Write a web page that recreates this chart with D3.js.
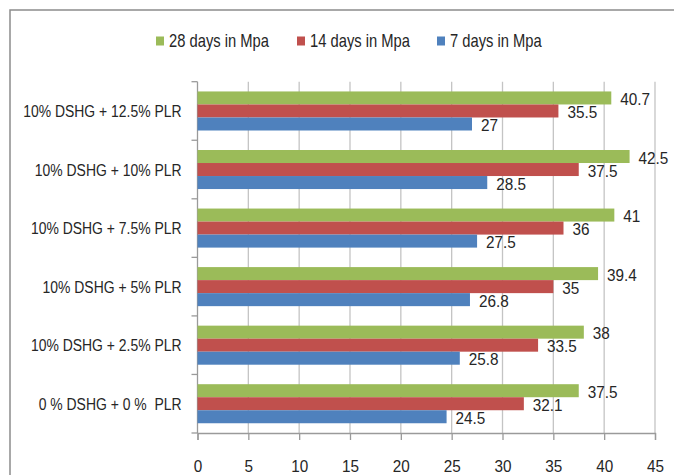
<!DOCTYPE html>
<html>
<head>
<meta charset="utf-8">
<script src="https://cdn.jsdelivr.net/npm/d3@7"></script>
<style>
  html, body { margin: 0; padding: 0; background: #fff; }
  svg { display: block; }
  text { font-family: "Liberation Sans", Arial, sans-serif; fill: #262626; }
</style>
</head>
<body>
<svg id="chart" width="674" height="475"></svg>
<script>
// Compressive strength by mix (top to bottom as shown)
const categories = [
  "10% DSHG + 12.5% PLR",
  "10% DSHG + 10% PLR",
  "10% DSHG + 7.5% PLR",
  "10% DSHG + 5% PLR",
  "10% DSHG + 2.5% PLR",
  "0 % DSHG + 0 %  PLR"
];
const seriesNames = ["28 days in Mpa", "14 days in Mpa", "7 days in Mpa"];
const days28 = [40.7, 42.5, 41, 39.4, 38, 37.5];
const days14 = [35.5, 37.5, 36, 35, 33.5, 32.1];
const days7  = [27, 28.5, 27.5, 26.8, 25.8, 24.5];
const xTicks = [0, 5, 10, 15, 20, 25, 30, 35, 40, 45];
const colors = ["#9bbb59", "#c0504d", "#4f81bd"];

const seriesValues = [days28, days14, days7];

const svg = d3.select("#chart");
const W = 674, H = 475;
const plot = { left: 197.5, right: 655, top: 81.7, bottom: 433 };
const fontSize = 17;
const narrow = 0.82;    // horizontal squeeze for words
const narrowNum = 0.9;  // numbers are squeezed a little less

// place a text at (px, py) and squeeze it horizontally
function placeNarrow(sel, px, py, sx = narrow) {
  sel.attr("x", 0).attr("y", 0)
    .attr("transform", (d, i) => {
      const tx = typeof px === "function" ? px(d, i) : px;
      const ty = typeof py === "function" ? py(d, i) : py;
      return `translate(${tx},${ty}) scale(${sx},1)`;
    });
  return sel;
}

// outer chart frame (runs off the right and bottom edges)
svg.append("rect")
  .attr("x", 10).attr("y", 10)
  .attr("width", W + 20).attr("height", H + 20)
  .attr("fill", "none").attr("stroke", "#8c8c8c").attr("stroke-width", 1.5);

const x = d3.scaleLinear().domain([0, 45]).range([plot.left, plot.right]);
const y = d3.scaleBand().domain(categories).range([plot.top, plot.bottom])
  .paddingInner(0.333).paddingOuter(0.1665);
const ySeries = d3.scaleBand().domain(seriesNames).range([0, y.bandwidth()]);

// vertical gridlines
svg.append("g").selectAll("line")
  .data(xTicks.filter(t => t > 0))
  .join("line")
  .attr("x1", d => x(d)).attr("x2", d => x(d))
  .attr("y1", plot.top).attr("y2", plot.bottom)
  .attr("stroke", "#c4c4c4").attr("stroke-width", 1.3);

// x axis
const xAxis = svg.append("g")
  .attr("transform", `translate(0,${plot.bottom})`)
  .call(d3.axisBottom(x).tickValues(xTicks).tickSize(7).tickPadding(20).tickFormat(d3.format("d")));
xAxis.attr("font-family", null).attr("font-size", null);
xAxis.select(".domain").attr("stroke", "#9a9a9a").attr("stroke-width", 1.3);
xAxis.selectAll(".tick line").attr("stroke", "#9a9a9a").attr("stroke-width", 1.3);
xAxis.selectAll(".tick text")
  .style("font-size", fontSize + "px")
  .attr("fill", "#262626")
  .attr("transform", `scale(${narrowNum},1)`);

// y axis line and band boundary ticks
const yAxis = svg.append("g");
yAxis.append("line")
  .attr("x1", plot.left).attr("x2", plot.left)
  .attr("y1", plot.top).attr("y2", plot.bottom)
  .attr("stroke", "#9a9a9a").attr("stroke-width", 1.3);
const step = y.step();
const boundaries = d3.range(categories.length + 1).map(i => plot.top + i * step);
yAxis.selectAll("line.tick")
  .data(boundaries)
  .join("line")
  .attr("class", "tick")
  .attr("x1", plot.left - 6).attr("x2", plot.left)
  .attr("y1", d => d).attr("y2", d => d)
  .attr("stroke", "#9a9a9a").attr("stroke-width", 1.3);

// category labels
placeNarrow(
  svg.append("g").selectAll("text")
    .data(categories)
    .join("text")
    .attr("dy", "0.36em")
    .attr("text-anchor", "end")
    .style("white-space", "pre")
    .style("font-size", fontSize + "px")
    .text(d => d),
  plot.left - 16,
  d => y(d) + y.bandwidth() / 2
);

// bars
const groups = svg.append("g").selectAll("g")
  .data(categories)
  .join("g")
  .attr("transform", d => `translate(0,${y(d)})`);

groups.each(function (cat, i) {
  const g = d3.select(this);
  seriesNames.forEach((s, k) => {
    const v = seriesValues[k][i];
    g.append("rect")
      .attr("x", x(0))
      .attr("y", ySeries(s))
      .attr("width", x(v) - x(0))
      .attr("height", ySeries.bandwidth())
      .attr("fill", colors[k]);
  });
});

// value labels
groups.each(function (cat, i) {
  const g = d3.select(this);
  seriesNames.forEach((s, k) => {
    const v = seriesValues[k][i];
    placeNarrow(
      g.append("text")
        .attr("dy", "0.36em")
        .style("font-size", fontSize + "px")
        .text(v),
      x(v) + 9,
      ySeries(s) + ySeries.bandwidth() / 2 + 1,
      narrowNum
    );
  });
});

// legend
const legendItems = [
  { name: seriesNames[0], color: colors[0], x: 156 },
  { name: seriesNames[1], color: colors[1], x: 297 },
  { name: seriesNames[2], color: colors[2], x: 437 }
];
const legend = svg.append("g").attr("transform", "translate(0,41)");
legendItems.forEach(it => {
  legend.append("rect")
    .attr("x", it.x).attr("y", -4.5)
    .attr("width", 8).attr("height", 9)
    .attr("fill", it.color);
  placeNarrow(
    legend.append("text")
      .attr("dy", "0.36em")
      .style("font-size", "18px")
      .text(it.name),
    it.x + 13, 0
  );
});
</script>
</body>
</html>
